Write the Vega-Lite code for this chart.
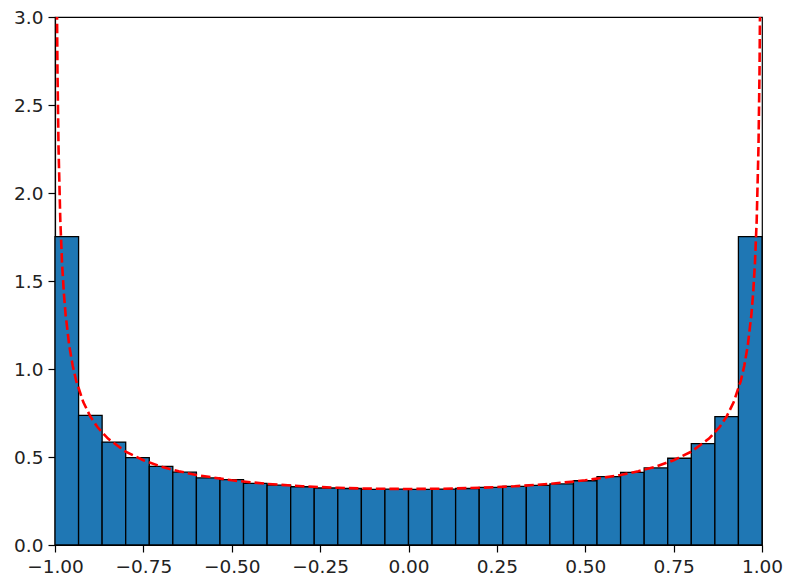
{
  "$schema": "https://vega.github.io/schema/vega-lite/v6.json",
  "width": 707,
  "height": 528,
  "autosize": {"type": "none"},
  "padding": {"left": 55, "top": 17, "right": 23, "bottom": 34},
  "background": "white",
  "config": {
    "view": {"stroke": "black", "strokeWidth": 1.2},
    "axis": {
      "grid": false,
      "domainColor": "black",
      "domainWidth": 1.2,
      "tickColor": "black",
      "tickWidth": 1.2,
      "tickSize": 7,
      "labelColor": "#222222",
      "labelFont": "DejaVu Sans",
      "labelFontSize": 18.5,
      "labelPadding": 5,
      "labelFlush": false,
      "labelOverlap": false,
      "title": null
    }
  },
  "datasets": {
    "hist": [
      {"x0": -1.0, "x1": -0.9333, "density": 1.752},
      {"x0": -0.9333, "x1": -0.8667, "density": 0.736},
      {"x0": -0.8667, "x1": -0.8, "density": 0.585},
      {"x0": -0.8, "x1": -0.7333, "density": 0.496},
      {"x0": -0.7333, "x1": -0.6667, "density": 0.447},
      {"x0": -0.6667, "x1": -0.6, "density": 0.414},
      {"x0": -0.6, "x1": -0.5333, "density": 0.381},
      {"x0": -0.5333, "x1": -0.4667, "density": 0.372},
      {"x0": -0.4667, "x1": -0.4, "density": 0.35},
      {"x0": -0.4, "x1": -0.3333, "density": 0.34},
      {"x0": -0.3333, "x1": -0.2667, "density": 0.331},
      {"x0": -0.2667, "x1": -0.2, "density": 0.324},
      {"x0": -0.2, "x1": -0.1333, "density": 0.321},
      {"x0": -0.1333, "x1": -0.0667, "density": 0.316},
      {"x0": -0.0667, "x1": 0.0, "density": 0.318},
      {"x0": 0.0, "x1": 0.0667, "density": 0.316},
      {"x0": 0.0667, "x1": 0.1333, "density": 0.318},
      {"x0": 0.1333, "x1": 0.2, "density": 0.321},
      {"x0": 0.2, "x1": 0.2667, "density": 0.327},
      {"x0": 0.2667, "x1": 0.3333, "density": 0.333},
      {"x0": 0.3333, "x1": 0.4, "density": 0.339},
      {"x0": 0.4, "x1": 0.4667, "density": 0.347},
      {"x0": 0.4667, "x1": 0.5333, "density": 0.365},
      {"x0": 0.5333, "x1": 0.6, "density": 0.388},
      {"x0": 0.6, "x1": 0.6667, "density": 0.413},
      {"x0": 0.6667, "x1": 0.7333, "density": 0.438},
      {"x0": 0.7333, "x1": 0.8, "density": 0.493},
      {"x0": 0.8, "x1": 0.8667, "density": 0.576},
      {"x0": 0.8667, "x1": 0.9333, "density": 0.729},
      {"x0": 0.9333, "x1": 1.0, "density": 1.752}
    ],
    "pdf": [
      {"x": -0.997, "y": 4.1125},
      {"x": -0.995, "y": 3.1872},
      {"x": -0.993, "y": 2.695},
      {"x": -0.99, "y": 2.2564},
      {"x": -0.985, "y": 1.8447},
      {"x": -0.98, "y": 1.5996},
      {"x": -0.975, "y": 1.4325},
      {"x": -0.97, "y": 1.3094},
      {"x": -0.96, "y": 1.1368},
      {"x": -0.95, "y": 1.0195},
      {"x": -0.94, "y": 0.9329},
      {"x": -0.92, "y": 0.8122},
      {"x": -0.9, "y": 0.7302},
      {"x": -0.88, "y": 0.6701},
      {"x": -0.85, "y": 0.6043},
      {"x": -0.8, "y": 0.5305},
      {"x": -0.75, "y": 0.4813},
      {"x": -0.7, "y": 0.4457},
      {"x": -0.65, "y": 0.4189},
      {"x": -0.6, "y": 0.3979},
      {"x": -0.5, "y": 0.3676},
      {"x": -0.4, "y": 0.3473},
      {"x": -0.3, "y": 0.3337},
      {"x": -0.2, "y": 0.3249},
      {"x": -0.1, "y": 0.3199},
      {"x": 0.0, "y": 0.3183},
      {"x": 0.1, "y": 0.3199},
      {"x": 0.2, "y": 0.3249},
      {"x": 0.3, "y": 0.3337},
      {"x": 0.4, "y": 0.3473},
      {"x": 0.5, "y": 0.3676},
      {"x": 0.6, "y": 0.3979},
      {"x": 0.65, "y": 0.4189},
      {"x": 0.7, "y": 0.4457},
      {"x": 0.75, "y": 0.4813},
      {"x": 0.8, "y": 0.5305},
      {"x": 0.85, "y": 0.6043},
      {"x": 0.88, "y": 0.6701},
      {"x": 0.9, "y": 0.7302},
      {"x": 0.92, "y": 0.8122},
      {"x": 0.94, "y": 0.9329},
      {"x": 0.95, "y": 1.0195},
      {"x": 0.96, "y": 1.1368},
      {"x": 0.97, "y": 1.3094},
      {"x": 0.975, "y": 1.4325},
      {"x": 0.98, "y": 1.5996},
      {"x": 0.985, "y": 1.8447},
      {"x": 0.99, "y": 2.2564},
      {"x": 0.993, "y": 2.695},
      {"x": 0.995, "y": 3.1872},
      {"x": 0.997, "y": 4.1125}
    ]
  },
  "layer": [
    {
      "data": {"name": "hist"},
      "mark": {"type": "rect", "fill": "#1f77b4", "stroke": "black", "strokeWidth": 1.3},
      "encoding": {
        "x": {
          "field": "x0",
          "type": "quantitative",
          "scale": {"domain": [-1, 1], "nice": false, "zero": false},
          "axis": {"values": [-1, -0.75, -0.5, -0.25, 0, 0.25, 0.5, 0.75, 1], "format": ".2f"}
        },
        "x2": {"field": "x1"},
        "y": {
          "field": "density",
          "type": "quantitative",
          "scale": {"domain": [0, 3], "nice": false},
          "axis": {"values": [0, 0.5, 1, 1.5, 2, 2.5, 3], "format": ".1f"}
        },
        "y2": {"datum": 0}
      }
    },
    {
      "data": {"name": "pdf"},
      "mark": {"type": "line", "color": "#ff0000", "strokeWidth": 2.6, "strokeDash": [9.5, 4], "clip": true},
      "encoding": {
        "x": {"field": "x", "type": "quantitative"},
        "y": {"field": "y", "type": "quantitative"}
      }
    }
  ]
}
